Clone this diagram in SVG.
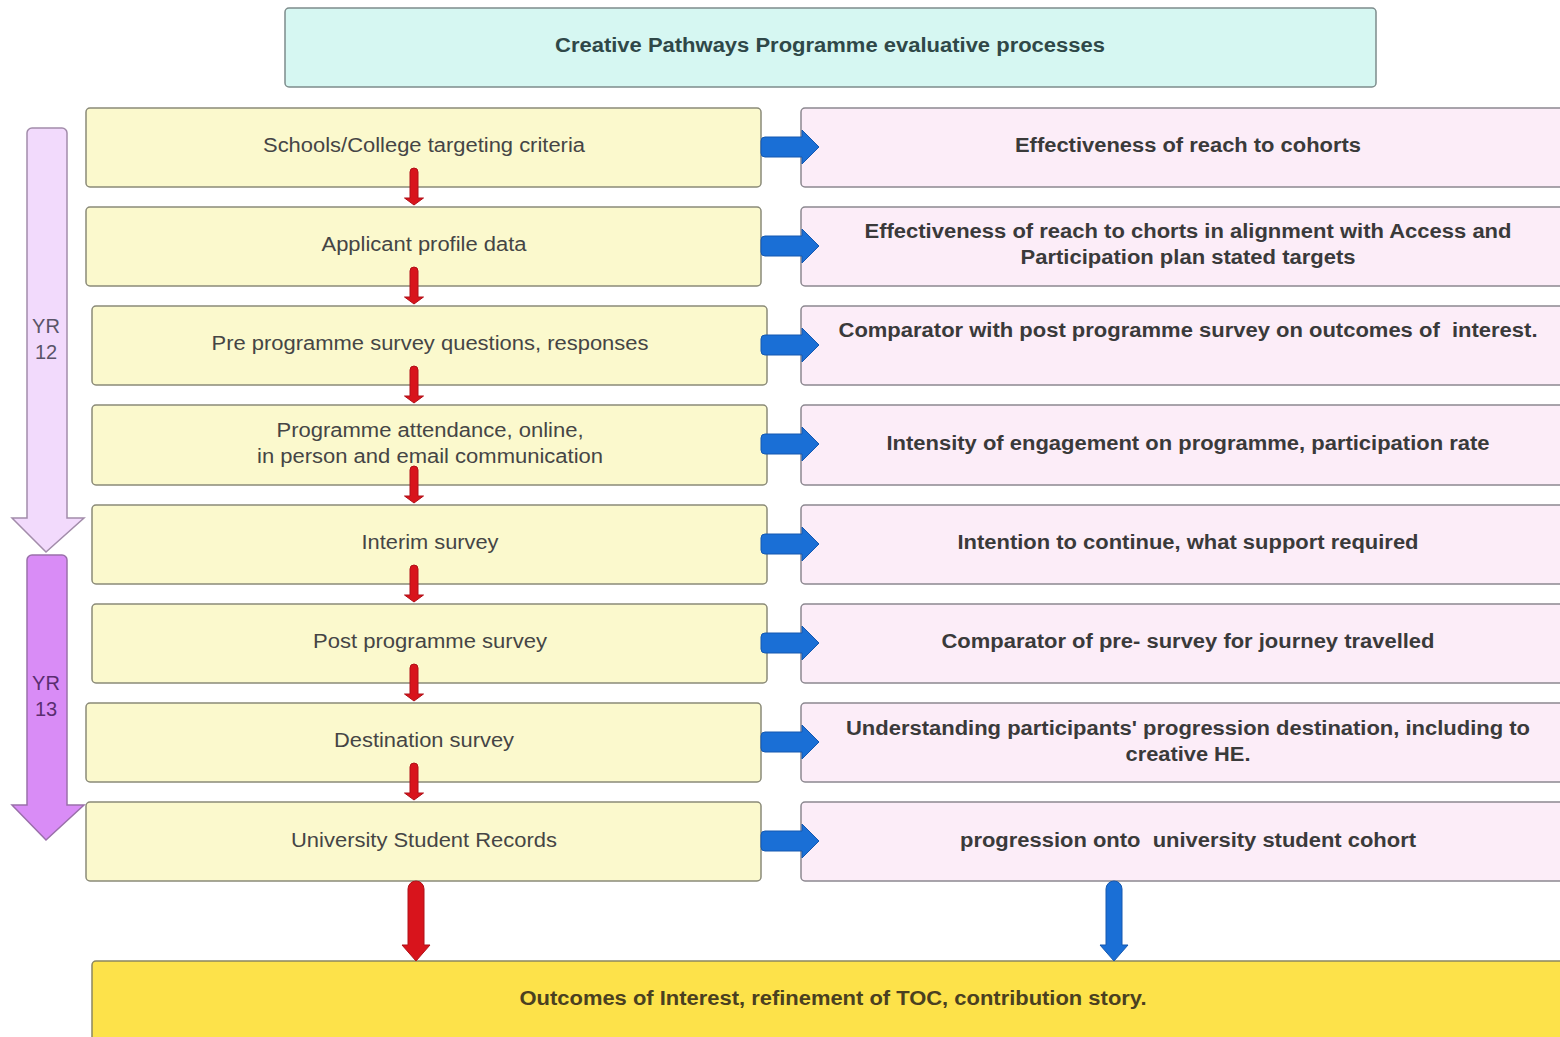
<svg xmlns="http://www.w3.org/2000/svg" xmlns:xlink="http://www.w3.org/1999/xlink" width="1560" height="1037" viewBox="0 0 1560 1037">
  <style>
    .title { fill:#d6f7f2; stroke:#7d8c8c; stroke-width:1.5; }
    .src { fill:#fbf9cd; stroke:#8a8a78; stroke-width:1.5; }
    .use { fill:#fcedf8; stroke:#8c8890; stroke-width:1.5; }
    .out { fill:#fde24a; stroke:#8a8660; stroke-width:1.5; }
    .t { font-family:"Liberation Sans", Arial, sans-serif; font-size:20px; text-anchor:middle; white-space:pre; }
    .tl { fill:#454545; }
    .tr { fill:#3a3a3a; font-weight:bold; }
    .tt { fill:#2f4848; font-weight:bold; }
    .to { fill:#4a4020; font-weight:bold; }
    .red { fill:#d8141c; stroke:#b01018; stroke-width:1; }
    .blue { fill:#1a6fd6; stroke:#1458b0; stroke-width:1; }
  </style>
  <defs>
    <path id="down" d="M-4,4 a4,4 0 0 1 8,0 V30 H9.5 L0,37 L-9.5,30 H-4 Z"/>
    <path id="right" d="M4,-10 H41 V-17 L58,0 L41,17 V10 H4 a4,4 0 0 1 -4,-4 V-6 a4,4 0 0 1 4,-4 Z"/>
  </defs>

  <rect width="1560" height="1037" fill="#ffffff"/>

  <!-- Year band arrows -->
  <g id="yr12">
    <path d="M27,133 a5,5 0 0 1 5,-5 H62 a5,5 0 0 1 5,5 V518 H84 L46,552 L12,518 H27 Z" fill="#f2dafc" stroke="#a28caa" stroke-width="1.5"/>
    <text class="t" x="46" y="333" fill="#5a5468">YR</text>
    <text class="t" x="46" y="359" fill="#5a5468">12</text>
  </g>
  <g id="yr13">
    <path d="M27,560 a5,5 0 0 1 5,-5 H62 a5,5 0 0 1 5,5 V805 H84 L46,840 L12,805 H27 Z" fill="#d98cf6" stroke="#9a70aa" stroke-width="1.5"/>
    <text class="t" x="46" y="690" fill="#5a2d70">YR</text>
    <text class="t" x="46" y="716" fill="#5a2d70">13</text>
  </g>

  <!-- Heading -->
  <g id="heading">
    <rect class="title" x="285" y="8" width="1091" height="79" rx="4"/>
    <text class="t tt" x="830" y="52" textLength="550" lengthAdjust="spacingAndGlyphs">Creative Pathways Programme evaluative processes</text>
  </g>

  <!-- Data sources -->
  <g id="src1"><rect class="src" x="86" y="108" width="675" height="79" rx="4"/>
    <text class="t tl" x="424" y="152" textLength="322" lengthAdjust="spacingAndGlyphs">Schools/College targeting criteria</text></g>
  <g id="src2"><rect class="src" x="86" y="207" width="675" height="79" rx="4"/>
    <text class="t tl" x="424" y="251" textLength="205" lengthAdjust="spacingAndGlyphs">Applicant profile data</text></g>
  <g id="src3"><rect class="src" x="92" y="306" width="675" height="79" rx="4"/>
    <text class="t tl" x="430" y="350" textLength="437" lengthAdjust="spacingAndGlyphs">Pre programme survey questions, responses</text></g>
  <g id="src4"><rect class="src" x="92" y="405" width="675" height="80" rx="4"/>
    <text class="t tl" x="430" y="437" textLength="307" lengthAdjust="spacingAndGlyphs">Programme attendance, online,</text>
    <text class="t tl" x="430" y="463" textLength="346" lengthAdjust="spacingAndGlyphs">in person and email communication</text></g>
  <g id="src5"><rect class="src" x="92" y="505" width="675" height="79" rx="4"/>
    <text class="t tl" x="430" y="549" textLength="137" lengthAdjust="spacingAndGlyphs">Interim survey</text></g>
  <g id="src6"><rect class="src" x="92" y="604" width="675" height="79" rx="4"/>
    <text class="t tl" x="430" y="648" textLength="234" lengthAdjust="spacingAndGlyphs">Post programme survey</text></g>
  <g id="src7"><rect class="src" x="86" y="703" width="675" height="79" rx="4"/>
    <text class="t tl" x="424" y="747" textLength="180" lengthAdjust="spacingAndGlyphs">Destination survey</text></g>
  <g id="src8"><rect class="src" x="86" y="802" width="675" height="79" rx="4"/>
    <text class="t tl" x="424" y="847" textLength="266" lengthAdjust="spacingAndGlyphs">University Student Records</text></g>

  <!-- Evaluation uses -->
  <g id="use1"><rect class="use" x="801" y="108" width="770" height="79" rx="4"/>
    <text class="t tr" x="1188" y="152" textLength="346" lengthAdjust="spacingAndGlyphs">Effectiveness of reach to cohorts</text></g>
  <g id="use2"><rect class="use" x="801" y="207" width="770" height="79" rx="4"/>
    <text class="t tr" x="1188" y="238" textLength="647" lengthAdjust="spacingAndGlyphs">Effectiveness of reach to chorts in alignment with Access and</text>
    <text class="t tr" x="1188" y="264" textLength="335" lengthAdjust="spacingAndGlyphs">Participation plan stated targets</text></g>
  <g id="use3"><rect class="use" x="801" y="306" width="770" height="79" rx="4"/>
    <text class="t tr" x="1188" y="337" textLength="699" lengthAdjust="spacingAndGlyphs">Comparator with post programme survey on outcomes of  interest.</text></g>
  <g id="use4"><rect class="use" x="801" y="405" width="770" height="80" rx="4"/>
    <text class="t tr" x="1188" y="450" textLength="603" lengthAdjust="spacingAndGlyphs">Intensity of engagement on programme, participation rate</text></g>
  <g id="use5"><rect class="use" x="801" y="505" width="770" height="79" rx="4"/>
    <text class="t tr" x="1188" y="549" textLength="461" lengthAdjust="spacingAndGlyphs">Intention to continue, what support required</text></g>
  <g id="use6"><rect class="use" x="801" y="604" width="770" height="79" rx="4"/>
    <text class="t tr" x="1188" y="648" textLength="493" lengthAdjust="spacingAndGlyphs">Comparator of pre- survey for journey travelled</text></g>
  <g id="use7"><rect class="use" x="801" y="703" width="770" height="79" rx="4"/>
    <text class="t tr" x="1188" y="735" textLength="684" lengthAdjust="spacingAndGlyphs">Understanding participants' progression destination, including to</text>
    <text class="t tr" x="1188" y="761" textLength="125" lengthAdjust="spacingAndGlyphs">creative HE.</text></g>
  <g id="use8"><rect class="use" x="801" y="802" width="770" height="79" rx="4"/>
    <text class="t tr" x="1188" y="847" textLength="456" lengthAdjust="spacingAndGlyphs">progression onto  university student cohort</text></g>

  <!-- Outcome -->
  <g id="outcome">
    <rect class="out" x="92" y="961" width="1480" height="90" rx="4"/>
    <text class="t to" x="833" y="1005" textLength="627" lengthAdjust="spacingAndGlyphs">Outcomes of Interest, refinement of TOC, contribution story.</text>
  </g>

  <!-- Connectors -->
  <g id="connectors">
    <use xlink:href="#down" class="red" x="414" y="168"/>
    <use xlink:href="#down" class="red" x="414" y="267"/>
    <use xlink:href="#down" class="red" x="414" y="366"/>
    <use xlink:href="#down" class="red" x="414" y="466"/>
    <use xlink:href="#down" class="red" x="414" y="565"/>
    <use xlink:href="#down" class="red" x="414" y="664"/>
    <use xlink:href="#down" class="red" x="414" y="763"/>

    <use xlink:href="#right" class="blue" x="761" y="147"/>
    <use xlink:href="#right" class="blue" x="761" y="246"/>
    <use xlink:href="#right" class="blue" x="761" y="345"/>
    <use xlink:href="#right" class="blue" x="761" y="444"/>
    <use xlink:href="#right" class="blue" x="761" y="544"/>
    <use xlink:href="#right" class="blue" x="761" y="643"/>
    <use xlink:href="#right" class="blue" x="761" y="742"/>
    <use xlink:href="#right" class="blue" x="761" y="841"/>

    <path class="red" d="M408,889 a8,8 0 0 1 16,0 V945 H430 L416,961 L402,945 H408 Z"/>
    <path class="blue" d="M1106,889 a8,8 0 0 1 16,0 V945 H1128 L1114,961 L1100,945 H1106 Z"/>
  </g>
</svg>
